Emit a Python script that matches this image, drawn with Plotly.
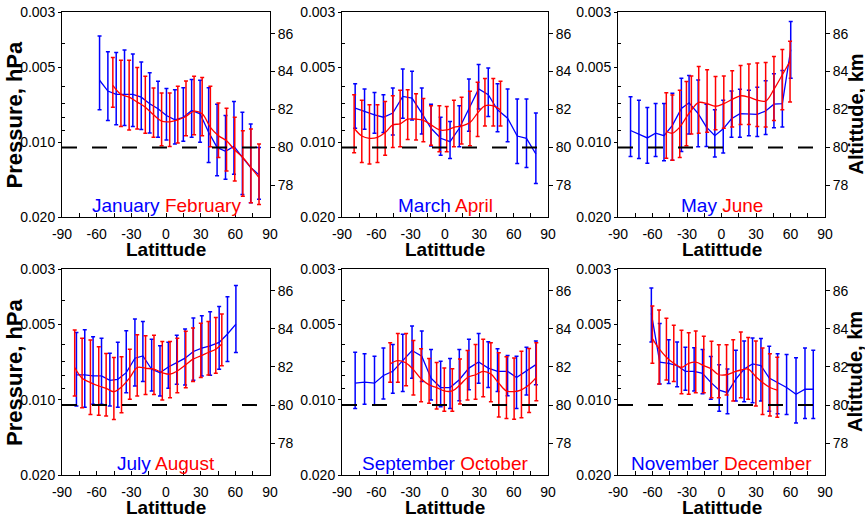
import math
import plotly.graph_objects as go

# ---------------- data (altitude, km) ----------------
x_tickvals = [-90, -60, -30, 0, 30, 60, 90]
x_ticktext = ["-90", "-60", "-30", "0", "30", "60", "90"]
x_minor = [-75, -45, -15, 15, 45, 75]
p_tickvals = [0.003, 0.005, 0.010, 0.020]
p_ticktext = ["0.003", "0.005", "0.010", "0.020"]
p_minor = [0.004, 0.006, 0.007, 0.008, 0.009]
alt_tickvals = [78, 80, 82, 84, 86]
alt_ref = 80

jan_lat = [-57.5, -50.3, -43.1, -35.9, -28.7, -21.4, -14.1, -6.9, 0.4, 7.7, 15.0, 22.2, 29.5, 36.9, 44.2, 51.5, 58.8, 66.1, 73.3, 80.5]
jan_km = [83.54, 82.97, 82.80, 82.80, 82.80, 82.65, 82.30, 82.04, 81.68, 81.45, 81.59, 81.95, 81.77, 80.80, 80.00, 79.79, 80.05, 79.47, 78.94, 78.55]
jan_hi = [85.88, 85.04, 85.01, 85.13, 84.92, 84.51, 83.93, 83.49, 83.10, 83.04, 83.15, 83.58, 83.54, 83.15, 82.27, 81.68, 82.42, 81.86, 81.24, 80.00]
jan_lo = [81.98, 81.42, 81.19, 81.15, 81.10, 80.94, 80.76, 80.53, 80.39, 80.18, 80.32, 80.53, 80.27, 79.20, 78.50, 78.32, 78.58, 77.52, 77.08, 77.26]

feb_lat = [-46.0, -39.0, -31.9, -24.9, -17.9, -10.8, -3.8, 3.2, 10.2, 17.3, 24.3, 31.3, 38.4, 45.4, 52.4, 59.5, 66.5, 73.5, 80.5]
feb_km = [83.27, 82.80, 82.65, 82.39, 82.12, 81.72, 81.38, 81.35, 81.45, 81.63, 81.91, 81.77, 81.06, 80.62, 80.35, 79.86, 79.47, 78.94, 78.41]
feb_hi = [84.74, 84.60, 84.60, 84.21, 83.75, 83.13, 82.87, 82.87, 83.22, 83.50, 83.75, 83.68, 83.22, 82.34, 82.07, 81.59, 80.88, 80.97, 80.18]
feb_lo = [82.12, 81.10, 80.92, 80.97, 80.74, 80.53, 80.09, 80.05, 80.23, 80.62, 80.67, 80.62, 80.04, 79.47, 78.76, 78.23, 77.43, 77.08, 76.99]

mar_lat = [-78.5, -70.3, -61.6, -53.8, -45.6, -36.9, -28.8, -20.3, -12.2, -3.8, 4.4, 12.5, 20.9, 29.4, 37.8, 45.9, 54.7, 63.1, 71.2, 79.4]
mar_km = [82.07, 81.89, 81.72, 81.59, 81.81, 82.69, 82.60, 81.81, 81.01, 80.48, 80.30, 81.01, 82.07, 83.08, 82.78, 81.98, 81.54, 80.60, 80.48, 79.65]
mar_hi = [83.36, 83.08, 82.90, 82.78, 83.13, 84.14, 84.02, 83.13, 82.28, 81.59, 81.36, 82.19, 83.61, 84.37, 84.19, 83.35, 83.08, 82.55, 82.55, 81.81]
mar_lo = [81.01, 80.96, 80.74, 80.78, 80.65, 81.54, 81.45, 80.71, 80.07, 79.59, 79.42, 80.04, 80.85, 82.02, 81.63, 80.83, 80.30, 79.15, 78.94, 78.09]

apr_lat = [-79.4, -72.7, -66.0, -59.0, -52.3, -45.6, -39.2, -32.6, -25.3, -18.9, -12.2, -4.9, 1.5, 7.8, 14.5, 21.8, 28.5, 34.9, 42.2, 48.5]
apr_km = [81.01, 80.60, 80.48, 80.53, 80.78, 81.19, 81.24, 81.49, 81.49, 81.42, 81.19, 80.92, 80.92, 81.06, 81.13, 81.31, 81.81, 82.19, 82.19, 81.98]
apr_hi = [82.78, 82.48, 82.25, 82.25, 82.42, 82.73, 83.01, 83.04, 82.83, 82.58, 82.19, 82.19, 82.16, 82.48, 82.64, 82.96, 83.43, 83.63, 83.63, 83.49]
apr_lo = [79.72, 79.20, 79.12, 79.20, 79.59, 80.00, 80.04, 80.42, 80.39, 80.30, 80.12, 79.77, 79.77, 80.04, 80.18, 80.09, 80.57, 81.13, 81.13, 81.13]

may_lat = [-79.1, -71.8, -64.5, -57.3, -50.0, -42.7, -34.9, -28.2, -20.3, -13.1, -5.8, 1.5, 8.7, 16.0, 23.8, 31.1, 38.4, 45.6, 52.9, 60.2]
may_km = [80.89, 80.71, 80.50, 80.75, 80.62, 81.16, 82.05, 82.35, 81.78, 81.07, 80.62, 80.98, 81.51, 81.78, 81.74, 81.74, 81.92, 82.28, 82.31, 85.16]
may_hi = [82.67, 82.49, 82.10, 82.31, 82.31, 82.85, 83.65, 83.79, 83.56, 82.28, 81.99, 82.49, 82.97, 83.06, 83.02, 83.17, 83.51, 83.88, 84.06, 86.64]
may_lo = [79.52, 79.41, 79.16, 79.52, 79.29, 79.32, 79.79, 80.71, 80.04, 80.05, 79.50, 79.70, 80.53, 80.53, 80.62, 80.57, 80.68, 81.03, 81.07, 83.65]

jun_lat = [-48.0, -42.7, -36.3, -30.5, -26.2, -19.8, -12.5, -5.2, 2.0, 9.3, 16.6, 23.8, 31.1, 38.4, 45.6, 52.9, 59.6]
jun_km = [80.85, 80.75, 81.07, 81.60, 81.96, 82.37, 82.31, 82.17, 82.31, 82.53, 82.72, 82.65, 82.49, 82.44, 83.06, 83.83, 84.54]
jun_hi = [82.88, 82.76, 83.02, 83.47, 83.77, 84.27, 84.09, 83.74, 83.77, 84.04, 84.32, 84.40, 84.45, 84.48, 84.80, 85.16, 85.60]
jun_lo = [79.43, 79.32, 79.47, 80.09, 80.71, 80.75, 80.80, 80.93, 81.01, 81.07, 81.21, 81.21, 81.10, 81.07, 81.42, 81.99, 82.40]

jul_lat = [-77.5, -70.3, -63.1, -55.8, -48.6, -41.7, -34.4, -26.9, -20.0, -12.4, -5.2, 2.0, 9.3, 16.5, 23.7, 31.0, 38.2, 46.0, 53.2, 60.5]
jul_km = [81.58, 81.58, 81.53, 81.53, 81.30, 81.35, 81.70, 82.46, 82.58, 81.88, 81.70, 82.00, 82.23, 82.46, 82.81, 82.99, 83.11, 83.29, 83.73, 84.25]
jul_hi = [83.81, 83.95, 83.59, 83.51, 82.72, 83.29, 83.90, 84.52, 84.38, 83.46, 83.11, 83.29, 83.67, 83.99, 84.57, 84.69, 84.90, 85.17, 85.69, 86.27]
jul_lo = [79.95, 79.89, 80.04, 80.04, 79.95, 79.89, 80.65, 81.00, 81.23, 80.74, 80.47, 80.88, 81.09, 81.05, 81.30, 81.53, 81.56, 81.88, 82.28, 82.76]

aug_lat = [-79.0, -72.6, -65.4, -58.2, -51.8, -45.1, -38.5, -31.3, -24.9, -17.7, -10.4, -3.2, 3.5, 9.8, 17.1, 23.4, 30.1, 36.7, 43.1, 48.3]
aug_km = [81.97, 81.41, 81.18, 81.00, 80.88, 80.70, 80.95, 81.44, 81.97, 81.93, 81.88, 81.70, 81.62, 81.79, 82.11, 82.41, 82.58, 82.76, 82.93, 83.20]
aug_hi = [83.94, 83.51, 83.41, 83.06, 82.71, 82.50, 82.53, 82.93, 83.69, 83.64, 83.67, 83.34, 83.34, 83.51, 83.87, 84.04, 84.29, 84.39, 84.60, 84.78]
aug_lo = [80.47, 79.86, 79.51, 79.46, 79.42, 79.24, 79.60, 80.30, 80.47, 80.56, 80.56, 80.26, 80.39, 80.65, 80.91, 81.23, 81.44, 81.58, 81.67, 82.06]

sep_lat = [-78.5, -70.3, -61.6, -53.8, -45.6, -36.9, -28.8, -20.3, -12.2, -3.8, 4.4, 12.5, 20.9, 29.4, 37.8, 45.9, 54.7, 62.5, 71.2, 79.4]
sep_km = [81.15, 81.20, 81.15, 81.55, 81.77, 82.33, 82.86, 82.56, 81.41, 80.92, 80.92, 81.33, 81.94, 82.26, 81.94, 81.77, 81.77, 81.45, 81.80, 82.12]
sep_hi = [82.77, 82.69, 82.56, 83.00, 83.18, 83.71, 84.15, 83.89, 82.92, 82.30, 82.44, 82.92, 83.45, 83.75, 83.32, 82.95, 82.60, 82.56, 83.04, 83.36]
sep_lo = [79.82, 80.04, 80.00, 80.32, 80.62, 80.71, 81.41, 81.24, 80.27, 79.91, 79.82, 80.23, 80.80, 81.15, 80.92, 80.71, 80.49, 79.82, 80.53, 81.06]

oct_lat = [-47.9, -41.2, -34.0, -27.6, -20.9, -13.9, -7.3, -0.6, 6.4, 13.1, 19.7, 26.7, 33.4, 40.1, 47.0, 53.7, 60.4, 66.8, 73.5, 79.8]
oct_km = [82.16, 82.33, 82.21, 81.86, 81.38, 81.06, 80.92, 80.74, 80.74, 81.06, 81.45, 81.59, 81.77, 81.63, 81.15, 80.74, 80.71, 80.80, 81.06, 81.45]
oct_hi = [83.27, 83.76, 83.76, 83.39, 82.95, 82.44, 82.24, 81.94, 81.91, 82.42, 82.86, 83.18, 83.45, 83.27, 82.74, 82.53, 82.47, 82.83, 82.97, 83.27]
oct_lo = [81.20, 81.20, 81.01, 80.53, 80.18, 80.09, 79.79, 79.68, 79.68, 80.05, 80.27, 80.30, 80.44, 80.18, 79.38, 79.29, 79.26, 79.33, 79.61, 80.23]

nov_lat = [-61.0, -53.7, -45.9, -38.6, -31.4, -23.8, -16.5, -9.3, -2.0, 5.2, 12.5, 19.7, 27.0, 34.3, 41.5, 48.8, 56.6, 64.8, 72.6, 79.8]
nov_km = [84.81, 82.25, 82.19, 82.07, 81.77, 81.77, 81.66, 81.19, 80.78, 80.65, 81.36, 81.89, 82.16, 82.07, 81.42, 81.19, 80.92, 80.57, 80.83, 80.83]
nov_hi = [86.14, 84.28, 83.43, 83.31, 83.04, 83.01, 82.92, 82.55, 82.11, 81.89, 82.87, 83.36, 83.52, 83.49, 83.08, 82.69, 82.65, 82.48, 82.99, 82.87]
nov_lo = [83.31, 81.10, 81.13, 80.96, 80.78, 80.74, 80.60, 80.30, 79.68, 79.54, 80.21, 80.18, 80.12, 80.21, 79.68, 79.54, 79.50, 79.06, 79.29, 79.29]

dec_lat = [-60.1, -54.3, -47.9, -41.5, -34.8, -28.5, -22.4, -15.4, -8.7, -2.3, 4.4, 10.2, 16.8, 23.2, 29.9, 35.7, 42.1, 48.5]
dec_km = [83.49, 82.96, 82.51, 82.19, 81.98, 82.19, 82.25, 82.07, 81.89, 81.59, 81.59, 81.72, 81.84, 81.89, 81.49, 81.19, 80.92, 80.78]
dec_hi = [85.20, 84.99, 84.55, 84.19, 83.93, 83.79, 83.88, 83.61, 83.35, 83.17, 83.17, 83.43, 83.84, 83.54, 83.36, 82.99, 82.69, 82.51]
dec_lo = [82.19, 81.10, 81.31, 81.24, 80.60, 80.57, 80.65, 80.65, 80.39, 80.39, 80.53, 80.21, 80.39, 80.30, 79.95, 79.50, 79.42, 79.36]

panels = [
    ("January", (jan_lat, jan_km, jan_hi, jan_lo), "February", (feb_lat, feb_km, feb_hi, feb_lo)),
    ("March", (mar_lat, mar_km, mar_hi, mar_lo), "April", (apr_lat, apr_km, apr_hi, apr_lo)),
    ("May", (may_lat, may_km, may_hi, may_lo), "June", (jun_lat, jun_km, jun_hi, jun_lo)),
    ("July", (jul_lat, jul_km, jul_hi, jul_lo), "August", (aug_lat, aug_km, aug_hi, aug_lo)),
    ("September", (sep_lat, sep_km, sep_hi, sep_lo), "October", (oct_lat, oct_km, oct_hi, oct_lo)),
    ("November", (nov_lat, nov_km, nov_hi, nov_lo), "December", (dec_lat, dec_km, dec_hi, dec_lo)),
]

# ---------------- layout geometry (pixels) ----------------
W, H = 865, 517
col_px = [(62, 270), (342, 548), (618, 825)]
row_px = [(12, 217), (269, 475)]
ALT_RANGE = [76.33, 87.14]
P_RANGE = [math.log10(0.020), math.log10(0.003)]

FONT = "Liberation Sans, Arial, sans-serif"
BLUE = "#0000ff"
RED = "#ff0000"

fig = go.Figure()
layout = dict(
    width=W, height=H, margin=dict(l=0, r=0, t=0, b=0),
    paper_bgcolor="white", plot_bgcolor="white",
    font=dict(family=FONT, size=14, color="black"),
    showlegend=False, template="none",
)
shapes = []
annotations = []


def aid(prefix, n):
    return prefix if n == 1 else f"{prefix}{n}"


for i, (n1, s1, n2, s2) in enumerate(panels):
    r, c = divmod(i, 3)
    x0, x1 = col_px[c]
    y0, y1 = row_px[r]
    xn = i + 1
    yp = 2 * i + 1   # pressure (left, log) - base axis
    ya = 2 * i + 2   # altitude (right, linear) - overlay
    xref = aid("x", xn)
    ypref = aid("y", yp)
    yaref = aid("y", ya)

    layout[aid("xaxis", xn)] = dict(
        domain=[x0 / W, x1 / W], anchor=ypref, range=[-90, 90],
        tickmode="array", tickvals=x_tickvals, ticktext=x_ticktext,
        ticks="inside", ticklen=4, tickwidth=1, tickcolor="black",
        minor=dict(tickmode="array", tickvals=x_minor, ticks="inside", ticklen=4, tickcolor="black"),
        showline=True, linecolor="black", linewidth=1, mirror=True,
        showgrid=False, zeroline=False, tickfont=dict(size=14),
        ticklabelstandoff=4,
    )
    layout[aid("yaxis", yp)] = dict(
        domain=[1 - y1 / H, 1 - y0 / H], anchor=xref, type="log", range=P_RANGE,
        tickmode="array", tickvals=p_tickvals, ticktext=p_ticktext,
        ticks="outside", ticklen=3, tickcolor="black",
        minor=dict(tickmode="array", tickvals=p_minor, ticks="inside", ticklen=3, tickcolor="black"),
        showline=True, linecolor="black", linewidth=1,
        showgrid=False, zeroline=False, tickfont=dict(size=14),
    )
    layout[aid("yaxis", ya)] = dict(
        overlaying=ypref, side="right", anchor=xref, range=ALT_RANGE,
        tickmode="array", tickvals=alt_tickvals,
        ticks="outside", ticklen=4, tickcolor="black",
        showline=True, linecolor="black", linewidth=1,
        showgrid=False, zeroline=False, tickfont=dict(size=14),
    )

    # empty helper trace so the pressure (base) subplot exists
    fig.add_trace(go.Scatter(x=[None], y=[None], xaxis=xref, yaxis=ypref, mode="lines",
                             hoverinfo="skip", showlegend=False))

    for (lat, km, hi, lo), color, shape in ((s1, BLUE, "linear"), (s2, RED, "spline")):
        fig.add_trace(go.Scatter(
            x=lat, y=km, mode="lines", xaxis=xref, yaxis=yaref,
            line=dict(color=color, width=1.3, shape=shape),
            error_y=dict(type="data", symmetric=False,
                         array=[h - v for h, v in zip(hi, km)],
                         arrayminus=[v - l for v, l in zip(km, lo)],
                         color=color, thickness=1.5, width=2),
            hoverinfo="skip", showlegend=False,
        ))

    shapes.append(dict(type="line", xref=xref, yref=yaref, x0=-90, x1=90, y0=alt_ref, y1=alt_ref,
                       line=dict(color="black", width=2, dash="15px,15px"), layer="above"))

    annotations.append(dict(
        xref="paper", yref="paper", x=(x0 + x1) / 2 / W, y=1 - (y1 - 12) / H,
        xanchor="center", yanchor="middle", showarrow=False,
        text=f"<span style='color:{BLUE}'>{n1}</span> <span style='color:{RED}'>{n2}</span>",
        font=dict(size=19, family=FONT),
    ))
    annotations.append(dict(
        xref="paper", yref="paper", x=(x0 + x1) / 2 / W, y=1 - (y1 + 32) / H,
        xanchor="center", yanchor="middle", showarrow=False,
        text="<b>Latittude</b>", font=dict(size=19, family=FONT, color="black"),
    ))
    if c == 0:
        annotations.append(dict(
            xref="paper", yref="paper", x=14 / W, y=1 - (y0 + y1) / 2 / H,
            xanchor="center", yanchor="middle", showarrow=False, textangle=-90,
            text="<b>Pressure, hPa</b>", font=dict(size=22, family=FONT, color="black"),
        ))
    if c == 2:
        annotations.append(dict(
            xref="paper", yref="paper", x=855 / W, y=1 - (y0 + y1) / 2 / H,
            xanchor="center", yanchor="middle", showarrow=False, textangle=-90,
            text="<b>Altittude, km</b>", font=dict(size=20, family=FONT, color="black"),
        ))

layout["shapes"] = shapes
layout["annotations"] = annotations
fig.update_layout(**layout)

fig.write_html("out.html", config={"displayModeBar": False},
               post_script="document.body.style.margin='0';")
